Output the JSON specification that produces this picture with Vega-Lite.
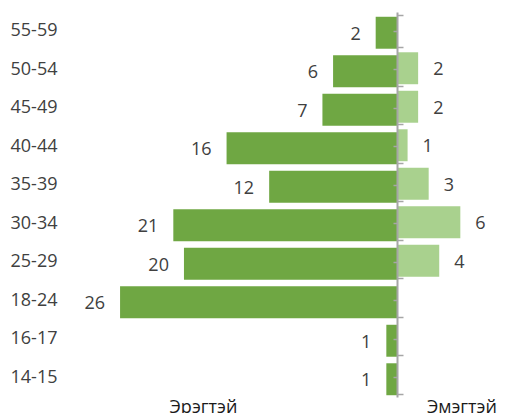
{
  "$schema": "https://vega.github.io/schema/vega-lite/v6.json",
  "width": 432,
  "height": 385,
  "autosize": {"type": "none"},
  "padding": {"left": 70, "top": 12, "right": 7, "bottom": 16},
  "config": {
    "view": {"stroke": null},
    "axis": {"grid": false},
    "font": "Open Sans"
  },
  "datasets": {
    "male": [
      {"age": "55-59", "value": 2},
      {"age": "50-54", "value": 6},
      {"age": "45-49", "value": 7},
      {"age": "40-44", "value": 16},
      {"age": "35-39", "value": 12},
      {"age": "30-34", "value": 21},
      {"age": "25-29", "value": 20},
      {"age": "18-24", "value": 26},
      {"age": "16-17", "value": 1},
      {"age": "14-15", "value": 1}
    ],
    "female": [
      {"age": "50-54", "value": 2},
      {"age": "45-49", "value": 2},
      {"age": "40-44", "value": 1},
      {"age": "35-39", "value": 3},
      {"age": "30-34", "value": 6},
      {"age": "25-29", "value": 4}
    ]
  },
  "layer": [
    {
      "data": {"name": "male"},
      "mark": {"type": "bar", "color": "#6fa743", "yOffset": 1.5},
      "encoding": {
        "y": {
          "field": "age", "type": "nominal",
          "scale": {"domain": ["55-59","50-54","45-49","40-44","35-39","30-34","25-29","18-24","16-17","14-15"], "paddingInner": 0.17, "paddingOuter": 0.085},
          "axis": {"title": null, "ticks": false, "tickSize": 0, "domain": false, "labelAlign": "left", "labelPadding": 60, "labelFont": "Open Sans", "labelFontSize": 18, "labelColor": "#404040"}
        },
        "x": {
          "field": "value", "type": "quantitative",
          "scale": {"domain": [-9.86, 30.7], "reverse": true, "nice": false, "zero": false},
          "axis": null
        }
      }
    },
    {
      "data": {"name": "male"},
      "mark": {"type": "text", "align": "right", "baseline": "middle", "dx": -15, "dy": 2, "yOffset": 1.5, "fontSize": 18, "font": "Open Sans", "color": "#404040"},
      "encoding": {
        "y": {"field": "age", "type": "nominal",
          "axis": {"orient": "right", "offset": -105, "zindex": 2, "title": null, "labels": false, "domainColor": "#a6a6a6", "domainWidth": 2, "tickColor": "#a6a6a6", "tickWidth": 1.5, "tickSize": 6, "tickBand": "extent"}},
        "x": {
          "field": "value", "type": "quantitative",
          "scale": {"domain": [-9.86, 30.7], "reverse": true, "nice": false, "zero": false},
          "axis": null
        },
        "text": {"field": "value", "type": "quantitative"}
      }
    },
    {
      "data": {"name": "female"},
      "mark": {"type": "bar", "color": "#a9d18e", "yOffset": -1.5},
      "encoding": {
        "y": {"field": "age", "type": "nominal",
          "axis": {"orient": "left", "offset": -327, "zindex": 2, "title": null, "labels": false, "domain": false, "tickColor": "#a6a6a6", "tickWidth": 1.5, "tickSize": 4}},
        "x": {
          "field": "value", "type": "quantitative",
          "scale": {"domain": [-31, 9.95], "nice": false, "zero": false},
          "axis": {"title": null, "values": [-18.4, 6.1], "labelExpr": "datum.value < 0 ? 'Эрэгтэй' : 'Эмэгтэй'", "domain": false, "ticks": false, "labelPadding": 1, "labelFont": "Open Sans", "labelFontSize": 18, "labelColor": "#1a1a1a", "labelOverlap": false, "labelFlush": false}
        }
      }
    },
    {
      "data": {"name": "female"},
      "mark": {"type": "text", "align": "left", "baseline": "middle", "dx": 15, "dy": 2, "yOffset": -1.5, "fontSize": 18, "font": "Open Sans", "color": "#404040"},
      "encoding": {
        "y": {"field": "age", "type": "nominal", "axis": null},
        "x": {
          "field": "value", "type": "quantitative",
          "scale": {"domain": [-31, 9.95], "nice": false, "zero": false},
          "axis": null
        },
        "text": {"field": "value", "type": "quantitative"}
      }
    }
  ],
  "resolve": {"scale": {"x": "independent"}, "axis": {"x": "independent", "y": "independent"}}
}
